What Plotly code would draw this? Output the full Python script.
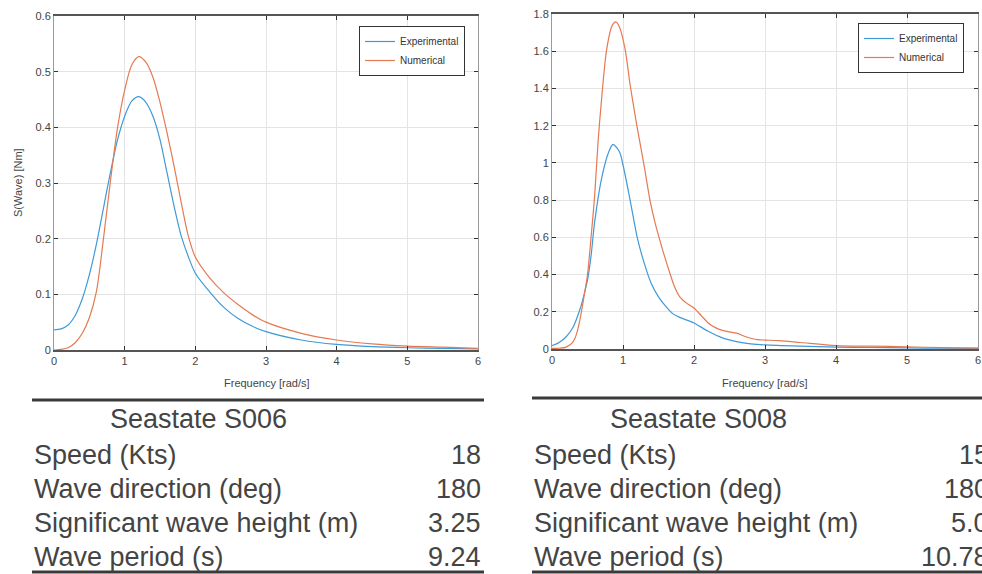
import plotly.graph_objects as go

# ---------------- data ----------------
# Left panel: Seastate S006
left_exp_x = [0, 0.1, 0.2, 0.3, 0.4, 0.5, 0.6, 0.7, 0.8, 0.9, 1.0, 1.1, 1.2, 1.3, 1.4, 1.5, 1.6, 1.7, 1.8, 1.9,
              2.0, 2.2, 2.4, 2.6, 2.8, 3.0, 3.5, 4.0, 4.5, 5.0, 5.5, 6.0]
left_exp_y = [0.036, 0.038, 0.045, 0.062, 0.092, 0.135, 0.19, 0.255, 0.32, 0.378, 0.42, 0.447, 0.455, 0.445, 0.42,
              0.378, 0.318, 0.258, 0.205, 0.168, 0.138, 0.105, 0.077, 0.057, 0.043, 0.033, 0.018, 0.01, 0.006,
              0.004, 0.003, 0.002]
left_num_x = [0, 0.1, 0.2, 0.3, 0.4, 0.5, 0.6, 0.7, 0.8, 0.9, 1.0, 1.1, 1.2, 1.3, 1.4, 1.5, 1.6, 1.7, 1.8, 1.9,
              2.0, 2.2, 2.4, 2.6, 2.8, 3.0, 3.5, 4.0, 4.5, 5.0, 5.5, 6.0]
left_num_y = [0.0, 0.001, 0.004, 0.013, 0.03, 0.058, 0.105, 0.2, 0.305, 0.4, 0.467, 0.512, 0.527, 0.517, 0.49,
              0.445, 0.39, 0.33, 0.265, 0.205, 0.167, 0.13, 0.103, 0.082, 0.064, 0.05, 0.03, 0.018, 0.011,
              0.007, 0.005, 0.003]

# Right panel: Seastate S008
right_exp_x = [0, 0.1, 0.2, 0.3, 0.4, 0.45, 0.5, 0.55, 0.6, 0.7, 0.8, 0.86, 0.95, 1.0, 1.1, 1.2, 1.3, 1.4, 1.5,
               1.6, 1.7, 1.8, 1.9, 2.0, 2.2, 2.4, 2.6, 2.8, 3.0, 3.5, 4.0, 4.5, 5.0, 5.5, 6.0]
right_exp_y = [0.018, 0.035, 0.066, 0.12, 0.22, 0.29, 0.37, 0.5, 0.68, 0.92, 1.06, 1.10, 1.06, 0.99, 0.8, 0.6,
               0.46, 0.35, 0.28, 0.23, 0.19, 0.17, 0.155, 0.14, 0.095, 0.06, 0.04, 0.028, 0.022, 0.015, 0.01,
               0.008, 0.006, 0.004, 0.003]
right_num_x = [0, 0.1, 0.2, 0.3, 0.35, 0.4, 0.45, 0.5, 0.55, 0.6, 0.65, 0.7, 0.77, 0.85, 0.9, 0.95, 1.03, 1.1,
               1.2, 1.3, 1.38, 1.45, 1.56, 1.65, 1.72, 1.8, 1.9, 2.0, 2.1, 2.2, 2.3, 2.4, 2.5, 2.6, 2.7, 2.8,
               2.9, 3.0, 3.2, 3.5, 4.0, 4.5, 5.0, 5.5, 6.0]
right_num_y = [0.003, 0.004, 0.01, 0.04, 0.086, 0.17, 0.28, 0.4, 0.6, 0.82, 1.12, 1.35, 1.61, 1.74, 1.758,
               1.73, 1.61, 1.42, 1.19, 0.98, 0.8, 0.68, 0.53, 0.42, 0.34, 0.28, 0.245, 0.22, 0.18, 0.14, 0.115,
               0.1, 0.092, 0.085, 0.07, 0.058, 0.05, 0.048, 0.045, 0.035, 0.018, 0.015, 0.012, 0.007, 0.005]

series_names = ["Experimental", "Numerical"]
x_title = "Frequency [rad/s]"
y_title = "S(Wave) [Nm]"

table_titles = ["Seastate S006", "Seastate S008"]
table_labels = ["Speed (Kts)", "Wave direction (deg)", "Significant wave height (m)", "Wave period (s)"]
table_left_values = ["18", "180", "3.25", "9.24"]
table_right_values = ["15", "180", "5.0", "10.78"]

# ---------------- layout helpers ----------------
W, H = 982, 574
def px(x):
    return x / W
def py(y):
    return 1 - y / H

BLUE = "#3f9ad8"
ORANGE = "#e57a52"
TXT = "#444444"
FONT = "Liberation Sans, Arial, sans-serif"

fig = go.Figure()

fig.add_trace(go.Scatter(x=left_exp_x, y=left_exp_y, mode="lines", name=series_names[0],
                         line=dict(color=BLUE, width=1.2, shape="spline", smoothing=0.8),
                         xaxis="x", yaxis="y", legend="legend"))
fig.add_trace(go.Scatter(x=left_num_x, y=left_num_y, mode="lines", name=series_names[1],
                         line=dict(color=ORANGE, width=1.2, shape="spline", smoothing=0.8),
                         xaxis="x", yaxis="y", legend="legend"))
fig.add_trace(go.Scatter(x=right_exp_x, y=right_exp_y, mode="lines", name=series_names[0],
                         line=dict(color=BLUE, width=1.2, shape="spline", smoothing=0.8),
                         xaxis="x2", yaxis="y2", legend="legend2"))
fig.add_trace(go.Scatter(x=right_num_x, y=right_num_y, mode="lines", name=series_names[1],
                         line=dict(color=ORANGE, width=1.2, shape="spline", smoothing=0.8),
                         xaxis="x2", yaxis="y2", legend="legend2"))

axis_common = dict(showgrid=True, gridcolor="#e4e4e4", gridwidth=1, zeroline=False,
                   ticks="inside", ticklen=4, tickcolor="#333", showline=True, mirror="ticks",
                   tickfont=dict(family=FONT, size=11, color=TXT), automargin=False)

legend_common = dict(xanchor="right", yanchor="top", bgcolor="white",
                     bordercolor="#333", borderwidth=1, font=dict(family=FONT, size=10, color="#333"),
                     itemwidth=30, tracegroupgap=0)

fig.update_layout(
    width=W, height=H,
    margin=dict(l=0, r=0, t=0, b=0),
    paper_bgcolor="white", plot_bgcolor="white",
    font=dict(family=FONT, color=TXT),
    xaxis=dict(domain=[px(54), px(478)], range=[0, 6], dtick=1, anchor="y",
               linecolor="#555", linewidth=1.5, **axis_common),
    yaxis=dict(domain=[py(350), py(16)], range=[0, 0.6], dtick=0.1, anchor="x",
               linecolor="#9a9a9a", linewidth=1, **axis_common),
    xaxis2=dict(domain=[px(552), px(978)], range=[0, 6], dtick=1, anchor="y2",
                linecolor="#555", linewidth=1.5, **axis_common),
    yaxis2=dict(domain=[py(349), py(14)], range=[0, 1.8], dtick=0.2, anchor="x2",
                linecolor="#9a9a9a", linewidth=1, **axis_common),
    legend=dict(x=px(465), y=py(26), **legend_common),
    legend2=dict(x=px(964), y=py(23), **legend_common),
    showlegend=True,
)

ann = []
# axis titles
ann.append(dict(text=x_title, x=px(267), y=py(383), xref="paper", yref="paper", showarrow=False,
                font=dict(family=FONT, size=11, color=TXT), xanchor="center", yanchor="middle"))
ann.append(dict(text=x_title, x=px(765), y=py(383), xref="paper", yref="paper", showarrow=False,
                font=dict(family=FONT, size=11, color=TXT), xanchor="center", yanchor="middle"))
ann.append(dict(text=y_title, x=px(18), y=py(183), xref="paper", yref="paper", showarrow=False,
                textangle=-90, font=dict(family=FONT, size=11, color=TXT), xanchor="center", yanchor="middle"))

# tables
row_y = [455, 489, 523, 557]
tables = [
    dict(title=table_titles[0], values=table_left_values, x0=32, x1=484, label_x=32, val_x=483, title_x=198, rule_top=400),
    dict(title=table_titles[1], values=table_right_values, x0=532, x1=982, label_x=532, val_x=991, title_x=698, rule_top=398),
]
shapes = []
FS = 27
for t in tables:
    ann.append(dict(text=t["title"], x=px(t["title_x"]), y=py(419), xref="paper", yref="paper", showarrow=False,
                    font=dict(family=FONT, size=FS, color=TXT), xanchor="center", yanchor="middle"))
    for lab, val, yy in zip(table_labels, t["values"], row_y):
        ann.append(dict(text=lab, x=px(t["label_x"]), y=py(yy), xref="paper", yref="paper", showarrow=False,
                        font=dict(family=FONT, size=FS, color=TXT), xanchor="left", yanchor="middle"))
        ann.append(dict(text=val, x=px(t["val_x"]), y=py(yy), xref="paper", yref="paper", showarrow=False,
                        font=dict(family=FONT, size=FS, color=TXT), xanchor="right", yanchor="middle"))
    shapes.append(dict(type="line", xref="paper", yref="paper", x0=px(t["x0"]), x1=px(t["x1"]),
                       y0=py(t["rule_top"]), y1=py(t["rule_top"]), line=dict(color="#3a3a3a", width=3)))
    shapes.append(dict(type="line", xref="paper", yref="paper", x0=px(t["x0"]), x1=px(t["x1"]),
                       y0=py(572), y1=py(572), line=dict(color="#3a3a3a", width=3)))

fig.update_layout(annotations=ann, shapes=shapes)

fig.write_html("out.html")
